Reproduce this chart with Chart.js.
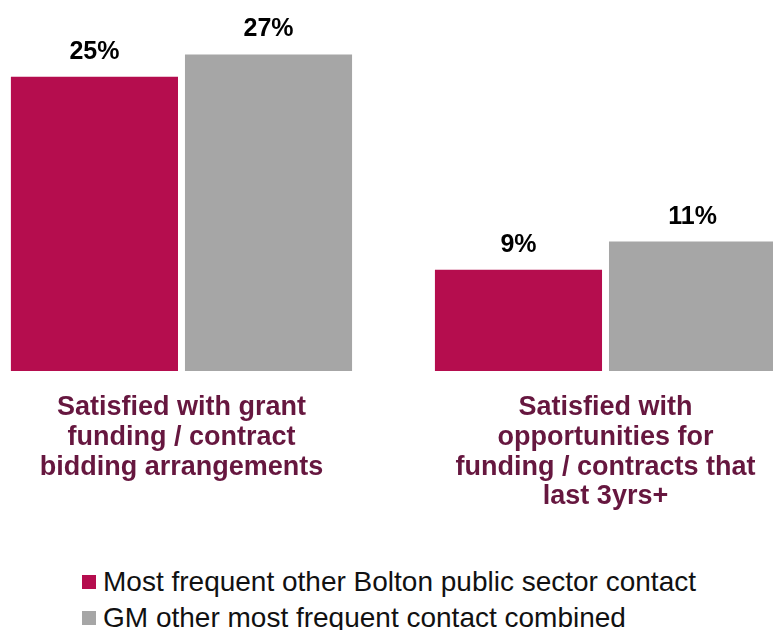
<!DOCTYPE html>
<html>
<head>
<meta charset="utf-8">
<script src="https://cdn.jsdelivr.net/npm/chart.js@4"></script>
<style>
  body { margin: 0; background: #fff; }
  #wrap { position: relative; width: 773px; height: 630px; overflow: hidden; }
  #myChart { position: absolute; left: 0; top: 0; }
  #legend { position: absolute; left: 82px; top: 564px; font-family: "Liberation Sans", Arial, sans-serif; font-size: 28px; color: #111; }
  #legend div { height: 36px; line-height: 36px; white-space: nowrap; }
  #legend span { display: inline-block; width: 14px; height: 14px; vertical-align: 2px; margin-right: 7px; }
</style>
</head>
<body>
<div id="wrap">
  <canvas id="myChart" width="773" height="511"></canvas>
  <div id="legend"></div>
</div>
<script>
const ctx = document.getElementById('myChart');

// categories (one array of lines per category)
const categories = [
  ['Satisfied with grant', 'funding / contract', 'bidding arrangements'],
  ['Satisfied with', 'opportunities for', 'funding / contracts that', 'last 3yrs+']
];

const seriesNames = ['Most frequent other Bolton public sector contact', 'GM other most frequent contact combined'];
const seriesColors = ['#B50D4E', '#A6A6A6'];

// values in %
const boltonValues = [25, 8.6];
const gmValues = [26.9, 11];

// draws the "25%" labels over each bar
const valueLabels = {
  id: 'valueLabels',
  afterDatasetsDraw(chart) {
    const c = chart.ctx;
    c.save();
    c.font = 'bold 25px "Liberation Sans", Arial, sans-serif';
    c.fillStyle = '#000';
    c.textAlign = 'center';
    c.textBaseline = 'alphabetic';
    chart.data.datasets.forEach((ds, i) => {
      chart.getDatasetMeta(i).data.forEach((bar, j) => {
        c.fillText(Math.round(ds.data[j].y) + '%', bar.x, bar.y - 18);
      });
    });
    c.restore();
  }
};

let t = {
  type: 'bar',
  data: {
    datasets: [
      {
        label: seriesNames[0],
        data: boltonValues.map((v, i) => ({ x: i, y: v })),
        backgroundColor: seriesColors[0]
      },
      {
        label: seriesNames[1],
        data: gmValues.map((v, i) => ({ x: i, y: v })),
        backgroundColor: seriesColors[1]
      }
    ]
  },
  options: {
    responsive: false,
    animation: false,
    categoryPercentage: 0.821,
    barPercentage: 0.96,
    layout: { padding: { top: 18, left: 0, right: 0, bottom: 0 } },
    scales: {
      x: {
        // linear so the two groups can sit where the original has them
        type: 'linear',
        min: -0.428,
        max: 1.395,
        offset: false,
        bounds: 'data',
        grid: { display: false, drawTicks: false, offset: false },
        border: { display: false },
        afterBuildTicks: s => { s.ticks = categories.map((c, i) => ({ value: i })); },
        afterFit: s => {
          s.height = 140;
          // labels fit already, don't let them squeeze the plot sideways
          s.paddingLeft = 0;
          s.paddingRight = 0;
        },
        ticks: {
          autoSkip: false,
          maxRotation: 0,
          padding: 22,
          color: '#66173F',
          font: { family: '"Liberation Sans", Arial, sans-serif', size: 27, weight: 'bold', lineHeight: 1.1 },
          callback: (value, index) => categories[index]
        }
      },
      y: {
        display: false,
        min: 0,
        max: 30
      }
    },
    plugins: {
      legend: { display: false },
      tooltip: { enabled: false }
    }
  },
  plugins: [valueLabels]
};

let cc = new Chart(ctx, t);

// html legend, two rows, built from the datasets
const leg = document.getElementById('legend');
cc.data.datasets.forEach(ds => {
  const row = document.createElement('div');
  const box = document.createElement('span');
  box.style.background = ds.backgroundColor;
  row.appendChild(box);
  row.appendChild(document.createTextNode(ds.label));
  leg.appendChild(row);
});
</script>
</body>
</html>
